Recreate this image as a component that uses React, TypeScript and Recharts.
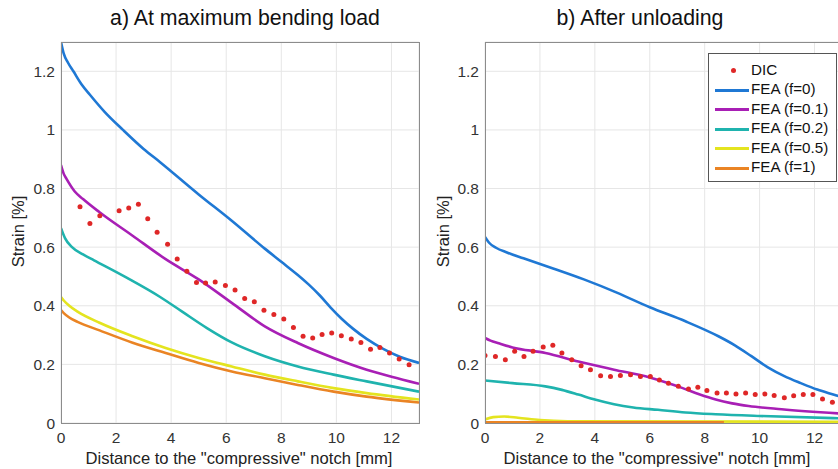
import React from 'react';
import { ComposedChart, Line, Scatter, XAxis, YAxis, CartesianGrid } from 'recharts';

type Pt = { x: number; y: number };
const pts = (xs: number[], ys: number[]): Pt[] => xs.map((x, i) => ({ x, y: ys[i] }));

const xTicks = [0, 2, 4, 6, 8, 10, 12];
const yTicks = [0, 0.2, 0.4, 0.6, 0.8, 1, 1.2];

// a) At maximum bending load
const dicAx = [0.69, 1.05, 1.41, 2.11, 2.46, 2.81, 3.15, 3.49, 3.87, 4.22, 4.57, 4.92, 5.25, 5.6, 5.97, 6.32, 6.67, 7.02, 7.37, 7.73, 8.09, 8.44, 8.79, 9.14, 9.48, 9.83, 10.18, 10.54, 10.89, 11.24, 11.58, 11.93, 12.28, 12.64];
const dicAy = [0.738, 0.681, 0.707, 0.724, 0.734, 0.746, 0.697, 0.651, 0.61, 0.56, 0.518, 0.479, 0.478, 0.481, 0.469, 0.454, 0.425, 0.414, 0.385, 0.37, 0.355, 0.326, 0.296, 0.29, 0.302, 0.307, 0.298, 0.287, 0.275, 0.252, 0.258, 0.239, 0.218, 0.199];

const f0Ax = [0, 0.1, 0.25, 0.45, 0.75, 1.05, 1.6, 2.25, 3.0, 3.6, 5.0, 6.2, 7.4, 8.0, 8.6, 9.0, 9.4, 9.8, 10.2, 10.6, 11.1, 11.7, 12.3, 13];
const f0Ay = [1.3, 1.26, 1.23, 1.2, 1.155, 1.12, 1.06, 1.0, 0.935, 0.89, 0.78, 0.69, 0.595, 0.55, 0.505, 0.472, 0.435, 0.393, 0.355, 0.322, 0.287, 0.253, 0.226, 0.205];
const f01Ax = [0, 0.1, 0.2, 0.5, 0.8, 1.4, 2.6, 3.8, 5.0, 6.2, 7.4, 8.6, 9.9, 11.1, 12, 13];
const f01Ay = [0.88, 0.85, 0.833, 0.79, 0.764, 0.719, 0.639, 0.559, 0.49, 0.41, 0.33, 0.273, 0.222, 0.182, 0.158, 0.134];
const f02Ax = [0, 0.15, 0.4, 0.8, 1.2, 2.4, 3.6, 4.4, 5.3, 6.2, 7.4, 8.6, 9.9, 11.1, 13];
const f02Ay = [0.665, 0.63, 0.6, 0.575, 0.555, 0.495, 0.43, 0.38, 0.324, 0.275, 0.228, 0.193, 0.165, 0.142, 0.107];
const f05Ax = [0, 0.1, 0.3, 0.6, 1.4, 2.6, 3.8, 5.0, 6.2, 7.4, 8.6, 9.9, 11.1, 13];
const f05Ay = [0.43, 0.418, 0.4, 0.38, 0.342, 0.296, 0.256, 0.222, 0.193, 0.165, 0.142, 0.119, 0.102, 0.08];
const f1Ax = [0, 0.1, 0.3, 0.6, 1.4, 2.6, 3.8, 5.0, 6.2, 7.4, 8.6, 9.9, 11.1, 13];
const f1Ay = [0.385, 0.375, 0.36, 0.345, 0.316, 0.274, 0.239, 0.205, 0.176, 0.153, 0.13, 0.107, 0.09, 0.07];

// b) After unloading
const dicBx = [0.0, 0.38, 0.74, 1.08, 1.42, 1.75, 2.12, 2.47, 2.8, 3.16, 3.5, 3.84, 4.21, 4.57, 4.93, 5.3, 5.66, 6.02, 6.35, 6.68, 7.04, 7.41, 7.75, 8.08, 8.45, 8.79, 9.14, 9.49, 9.84, 10.19, 10.53, 10.9, 11.24, 11.59, 11.94, 12.29, 12.65];
const dicBy = [0.23, 0.227, 0.216, 0.245, 0.227, 0.245, 0.259, 0.265, 0.239, 0.216, 0.195, 0.182, 0.161, 0.159, 0.162, 0.165, 0.159, 0.159, 0.147, 0.136, 0.125, 0.116, 0.122, 0.111, 0.102, 0.102, 0.099, 0.102, 0.097, 0.099, 0.094, 0.086, 0.093, 0.097, 0.097, 0.082, 0.071];

const f0Bx = [0, 0.15, 0.4, 0.8, 1.4, 2.4, 3.6, 4.8, 6.0, 7.3, 8.5, 9.1, 9.7, 10.3, 10.9, 11.5, 12.1, 12.8, 13];
const f0By = [0.635, 0.615, 0.598, 0.582, 0.562, 0.53, 0.49, 0.445, 0.395, 0.347, 0.296, 0.265, 0.228, 0.19, 0.16, 0.136, 0.114, 0.094, 0.088];
const f01Bx = [0, 0.2, 0.5, 1.0, 2.2, 3.4, 4.7, 6.0, 6.6, 7.2, 7.8, 8.4, 9.0, 9.6, 10.8, 13];
const f01By = [0.29, 0.281, 0.272, 0.258, 0.239, 0.21, 0.182, 0.155, 0.138, 0.119, 0.098, 0.08, 0.067, 0.058, 0.047, 0.032];
const f02Bx = [0, 1.0, 2.2, 2.8, 3.4, 4.0, 4.7, 5.4, 6.3, 7.3, 8.4, 10, 13];
const f02By = [0.145, 0.136, 0.125, 0.113, 0.097, 0.08, 0.064, 0.053, 0.045, 0.036, 0.03, 0.024, 0.016];
const f05Bx = [0, 0.3, 0.7, 1.2, 2.0, 3.0, 13];
const f05By = [0.012, 0.02, 0.022, 0.018, 0.01, 0.006, 0.004];
const f1Bx = [0, 4, 8.7];
const f1By = [0.002, 0.002, 0.002];

const colors = {
  dic: '#df2727',
  f0: '#1f78d4',
  f01: '#a81fb5',
  f02: '#1fb3ae',
  f05: '#e4e41f',
  f1: '#ea8424',
};

const legendItems = [
  { label: 'FEA (f=0)', color: colors.f0 },
  { label: 'FEA (f=0.1)', color: colors.f01 },
  { label: 'FEA (f=0.2)', color: colors.f02 },
  { label: 'FEA (f=0.5)', color: colors.f05 },
  { label: 'FEA (f=1)', color: colors.f1 },
];

const font = '"Liberation Sans", Arial, sans-serif';
const tick = { fill: '#333', fontSize: 15.5, fontFamily: font };

const Dot = (props: any) => <circle cx={props.cx} cy={props.cy} r={2.5} fill={colors.dic} />;

interface PanelProps {
  width: number;
  yWidth: number;
  dic: Pt[];
  series: { data: Pt[]; color: string; key: string }[];
}

function Panel({ width, yWidth, dic, series }: PanelProps) {
  return (
    <ComposedChart width={width} height={469} margin={{ top: 42, right: 1, left: 0, bottom: 16 }}>
      <CartesianGrid stroke="#e6e6e6" />
      <XAxis
        type="number"
        dataKey="x"
        domain={[0, 13]}
        ticks={xTicks}
        allowDataOverflow
        axisLine={false}
        tickLine={false}
        tickSize={8}
        tickMargin={1}
        height={30}
        tick={tick}
      />
      <YAxis
        type="number"
        dataKey="y"
        domain={[0, 1.3]}
        ticks={yTicks}
        allowDataOverflow
        axisLine={false}
        tickLine={false}
        tickSize={5}
        tickMargin={1}
        width={yWidth}
        tick={tick}
      />
      {series.map((s) => (
        <Line
          key={s.key}
          data={s.data}
          dataKey="y"
          type="monotone"
          stroke={s.color}
          strokeWidth={2.6}
          dot={false}
          isAnimationActive={false}
        />
      ))}
      <Scatter data={dic} dataKey="y" shape={Dot} isAnimationActive={false} />
    </ComposedChart>
  );
}

const abs = (s: React.CSSProperties): React.CSSProperties => ({ position: 'absolute', ...s });

export default function App() {
  const seriesA = [
    { key: 'f1', data: pts(f1Ax, f1Ay), color: colors.f1 },
    { key: 'f05', data: pts(f05Ax, f05Ay), color: colors.f05 },
    { key: 'f02', data: pts(f02Ax, f02Ay), color: colors.f02 },
    { key: 'f01', data: pts(f01Ax, f01Ay), color: colors.f01 },
    { key: 'f0', data: pts(f0Ax, f0Ay), color: colors.f0 },
  ];
  const seriesB = [
    { key: 'f05', data: pts(f05Bx, f05By), color: colors.f05 },
    { key: 'f1', data: pts(f1Bx, f1By), color: colors.f1 },
    { key: 'f02', data: pts(f02Bx, f02By), color: colors.f02 },
    { key: 'f01', data: pts(f01Bx, f01By), color: colors.f01 },
    { key: 'f0', data: pts(f0Bx, f0By), color: colors.f0 },
  ];

  const ylabel: React.CSSProperties = {
    width: 120,
    textAlign: 'center',
    fontSize: 16.5,
    color: '#222',
    transform: 'rotate(-90deg)',
    whiteSpace: 'nowrap',
  };

  return (
    <div style={abs({ left: 0, top: 0, width: 838, height: 469, overflow: 'hidden', background: '#fff', fontFamily: font })}>
      <div style={abs({ left: 0, top: 0 })}>
        <Panel width={420} yWidth={61} dic={pts(dicAx, dicAy)} series={seriesA} />
      </div>
      <div style={abs({ left: 418, top: 0 })}>
        <Panel width={425} yWidth={67} dic={pts(dicBx, dicBy)} series={seriesB} />
      </div>

      {/* axes boxes */}
      <div style={abs({ left: 61, top: 42, width: 357, height: 380, border: '1px solid #8c8c8c', pointerEvents: 'none' })} />
      <div style={abs({ left: 485, top: 42, width: 400, height: 380, border: '1px solid #8c8c8c', pointerEvents: 'none' })} />

      {/* titles */}
      <div style={abs({ left: 45, top: 6, width: 400, textAlign: 'center', fontSize: 21.3, color: '#111', whiteSpace: 'nowrap' })}>
        a) At maximum bending load
      </div>
      <div style={abs({ left: 440, top: 6, width: 400, textAlign: 'center', fontSize: 21.3, color: '#111', whiteSpace: 'nowrap' })}>
        b) After unloading
      </div>

      {/* axis labels */}
      <div style={abs({ left: 39, top: 449, width: 400, textAlign: 'center', fontSize: 16.6, color: '#222', whiteSpace: 'nowrap' })}>
        Distance to the "compressive" notch [mm]
      </div>
      <div style={abs({ left: 457, top: 449, width: 400, textAlign: 'center', fontSize: 16.6, color: '#222', whiteSpace: 'nowrap' })}>
        Distance to the "compressive" notch [mm]
      </div>
      <div style={abs({ left: -42, top: 222, ...ylabel })}>Strain [%]</div>
      <div style={abs({ left: 383, top: 222, ...ylabel })}>Strain [%]</div>

      {/* legend */}
      <div style={abs({ left: 708, top: 53, width: 127, height: 127, border: '1px solid #555', background: '#fff' })}>
        <div style={abs({ left: 0, top: 16.5, width: 127, height: 20 })}>
          <div style={abs({ left: 22, top: -2.5, width: 5, height: 5, borderRadius: '50%', background: colors.dic })} />
          <div style={abs({ left: 42, top: -10, fontSize: 15.2, color: '#111', whiteSpace: 'nowrap' })}>DIC</div>
        </div>
        {legendItems.map((it, i) => (
          <div key={it.label} style={abs({ left: 0, top: 36 + i * 19.5, width: 127, height: 20 })}>
            <div style={abs({ left: 6, top: -1.5, width: 34, height: 3, background: it.color })} />
            <div style={abs({ left: 42, top: -10, fontSize: 15.2, color: '#111', whiteSpace: 'nowrap' })}>{it.label}</div>
          </div>
        ))}
      </div>
    </div>
  );
}
